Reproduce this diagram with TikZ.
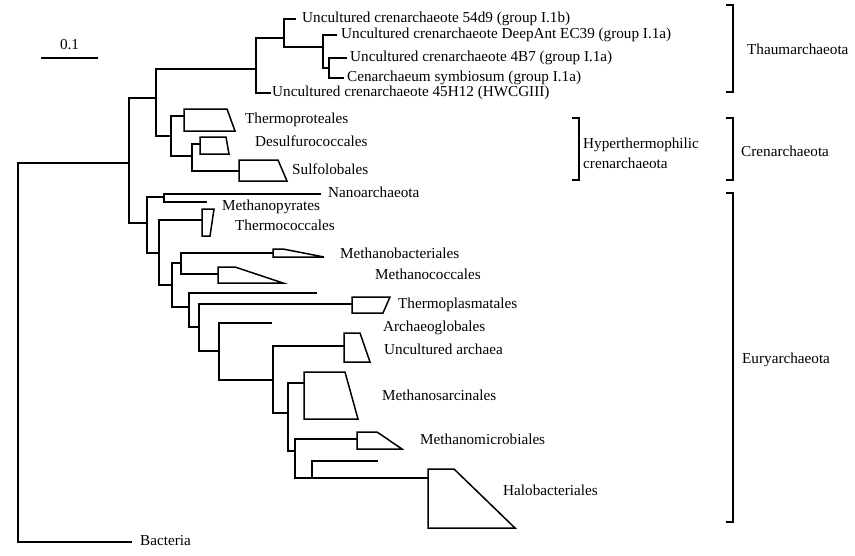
\documentclass[tikz,border=0pt]{standalone}
\usepackage{fontspec}
\setmainfont{Liberation Serif}
\usetikzlibrary{positioning}

\begin{document}
\begin{tikzpicture}[
			x=1pt, y=-1pt,
			branch/.style = {draw, line width=1.5pt, line join=miter},
			clade/.style  = {draw, line width=1.5pt, line join=miter},
			bracket/.style = {draw, line width=1.5pt, line join=miter},
			taxon/.style  = {anchor=west, inner sep=0pt, text height=0.7em, text depth=0pt,
				font=\fontsize{15.2}{19.5}\selectfont},
			group/.style  = {anchor=west, inner sep=0pt, align=left,
				font=\fontsize{15.2}{19.5}\selectfont}]
			
			\useasboundingbox (0,0) rectangle (855,555);
			
			% scale bar
			\coordinate (s0) at (41,58);
			\coordinate (s1) at (98,58);
			\draw[branch] (s0) -- (s1);
			\node[taxon, anchor=center] (scale) at (69.5,46) {0.1};
			
			% internal nodes of the tree
			\coordinate (root) at (18,350);
			\coordinate (arch) at (129,163);
			\coordinate (tacc) at (156,98);
			\coordinate (thau) at (256,69);
			\coordinate (th1)  at (284,38);
			\coordinate (th2)  at (323,47);
			\coordinate (th3)  at (329,68);
			\coordinate (cren) at (171,136);
			\coordinate (cr1)  at (192,156);
			\coordinate (eury) at (147,223);
			\coordinate (nano) at (164,197);
			\coordinate (eu1)  at (159,253);
			\coordinate (eu2)  at (172,285);
			\coordinate (eu3)  at (181,263);
			\coordinate (eu4)  at (189,307);
			\coordinate (eu5)  at (199,327);
			\coordinate (eu6)  at (219,351);
			\coordinate (eu7)  at (273,380);
			\coordinate (eu8)  at (288,413);
			\coordinate (eu9)  at (295,451);
			\coordinate (eu10) at (312,478);
			
			% single leaves
			\coordinate (t54)  at (296,19);
			\coordinate (tDA)  at (337,35);
			\coordinate (t4B7) at (347,58);
			\coordinate (tCen) at (344,78);
			\coordinate (t45)  at (271,93);
			\coordinate (tNa)  at (321,194);
			\coordinate (tMp)  at (207,202);
			\coordinate (tX1)  at (317,293);
			\coordinate (tAg)  at (272,323);
			\coordinate (tX2)  at (378,461);
			\coordinate (tBac) at (132,542);
			
			% collapsed clades: name/left/branch/top/bottom/top right/bottom right
			\foreach \c/\xl/\y/\yt/\yb/\xt/\xb in {
				cTp/184/116/109/131/227/235,
				cDe/200/144/137/154/226/229,
				cSu/239/171/160/181/278/287,
				cTc/202/220/209/236/214/210,
				cMb/273/253/249/257/283/324,
				cMc/218/274/267/283/235/283,
				cTm/352/304/297/313/390/383,
				cUa/344/346/333/362/360/370,
				cMs/304/383/372/419/345/358,
				cMm/357/439/432/449/377/402,
				cHa/428/478/469/528/454/515}
			{
				\coordinate (\c) at (\xl,\y);
				\draw[clade] (\xl,\yt) -- (\xt,\yt) -- (\xb,\yb) -- (\xl,\yb) -- cycle;
			}
			
			% branches from every node to its children
			\foreach \p/\c in {root/arch, root/tBac, arch/tacc, arch/eury,
				tacc/thau, tacc/cren, thau/th1, thau/t45, th1/t54, th1/th2,
				th2/tDA, th2/th3, th3/t4B7, th3/tCen,
				cren/cTp, cren/cr1, cr1/cDe, cr1/cSu,
				eury/nano, eury/eu1, nano/tNa, nano/tMp,
				eu1/cTc, eu1/eu2, eu2/eu3, eu2/eu4, eu3/cMb, eu3/cMc,
				eu4/tX1, eu4/eu5, eu5/cTm, eu5/eu6, eu6/tAg, eu6/eu7,
				eu7/cUa, eu7/eu8, eu8/cMs, eu8/eu9, eu9/cMm, eu9/eu10,
				eu10/tX2, eu10/cHa}
			\draw[branch] (\p) |- (\c);
			
			% leaf labels
			\node[taxon, right=6pt of t54]  (l54)  {Uncultured crenarchaeote 54d9 (group I.1b)};
			\node[taxon, right=4pt of tDA]  (lDA)  {Uncultured crenarchaeote DeepAnt EC39 (group I.1a)};
			\node[taxon, right=3pt of t4B7] (l4B7) {Uncultured crenarchaeote 4B7 (group I.1a)};
			\node[taxon, right=3pt of tCen] (lCen) {Cenarchaeum symbiosum (group I.1a)};
			\node[taxon, right=1pt of t45]  (l45)  {Uncultured crenarchaeote 45H12 (HWCGIII)};
			\node[taxon, right=7pt of tNa]  (lNa)  {Nanoarchaeota};
			\node[taxon, right=8pt of tBac] (lBac) {Bacteria};
			
			% clade labels
			\node[taxon] (lTp) at (245,120) {Thermoproteales};
			\node[taxon] (lDe) at (255,143) {Desulfurococcales};
			\node[taxon] (lSu) at (292,171) {Sulfolobales};
			\node[taxon] (lMp) at (222,207) {Methanopyrates};
			\node[taxon] (lTc) at (235,227) {Thermococcales};
			\node[taxon] (lMb) at (340,255) {Methanobacteriales};
			\node[taxon] (lMc) at (375,276) {Methanococcales};
			\node[taxon] (lTm) at (398,305) {Thermoplasmatales};
			\node[taxon] (lAg) at (383,328) {Archaeoglobales};
			\node[taxon] (lUa) at (384,351) {Uncultured archaea};
			\node[taxon] (lMs) at (382,397) {Methanosarcinales};
			\node[taxon] (lMm) at (420,441) {Methanomicrobiales};
			\node[taxon] (lHa) at (503,492) {Halobacteriales};
			
			% brackets of the groups: name/x/top/bottom
			\foreach \b/\x/\yt/\yb in {thaum/733/5/92, hyper/579/118/180,
				crena/733/118/180, eurya/733/193/522}
			{
				\coordinate (\b T) at (\x,\yt);
				\coordinate (\b B) at (\x,\yb);
				\draw[bracket] ([xshift=-7pt]\b T) -- (\b T) -- (\b B) -- ([xshift=-7pt]\b B);
			}
			
			\node[taxon] (gThaum) at (747,51) {Thaumarchaeota};
			\node[group] (gHyper) at (583,153.5) {Hyperthermophilic\\crenarchaeota};
			\node[taxon] (gCrena) at (741,153) {Crenarchaeota};
			\node[taxon] (gEurya) at (742,360) {Euryarchaeota};
		\end{tikzpicture}
\end{document}
